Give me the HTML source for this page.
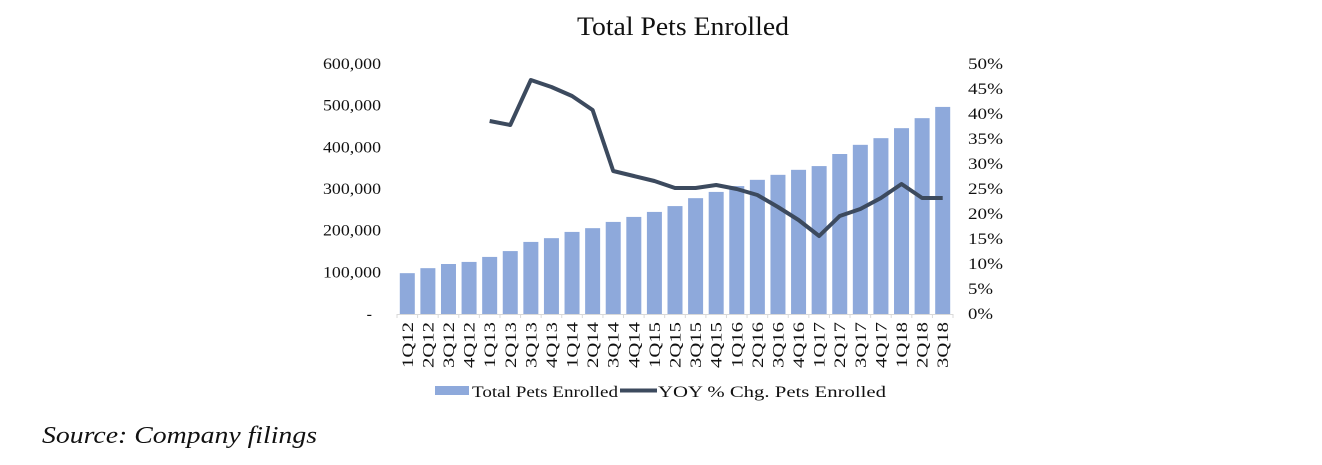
<!DOCTYPE html>
<html><head><meta charset="utf-8"><style>
body{margin:0;background:#fff;width:1322px;height:460px;overflow:hidden;font-family:"Liberation Serif",serif}
svg text{font-family:"Liberation Serif",serif}
</style></head><body>
<svg width="1322" height="460">
<text x="577" y="35" font-size="26" textLength="212" lengthAdjust="spacingAndGlyphs" fill="#111">Total Pets Enrolled</text>
<g id="plot"></g>
<g>
<rect x="435" y="386" width="34" height="9" fill="#8ea9db"/>
<text x="472" y="397" font-size="16" textLength="146" lengthAdjust="spacingAndGlyphs" fill="#111">Total Pets Enrolled</text>
<line x1="620" y1="390.5" x2="657" y2="390.5" stroke="#3c4a5e" stroke-width="4"/>
<text x="658" y="397" font-size="16" textLength="228" lengthAdjust="spacingAndGlyphs" fill="#111">YOY % Chg. Pets Enrolled</text>
</g>
<text x="42" y="443" font-size="24" textLength="275" lengthAdjust="spacingAndGlyphs" font-style="italic" fill="#111">Source: Company filings</text>
</svg>
<script>
const categories=["1Q12","2Q12","3Q12","4Q12","1Q13","2Q13","3Q13","4Q13","1Q14","2Q14","3Q14","4Q14","1Q15","2Q15","3Q15","4Q15","1Q16","2Q16","3Q16","4Q16","1Q17","2Q17","3Q17","4Q17","1Q18","2Q18","3Q18"];
const pets=[98000,110000,120000,125000,137000,151000,173000,182000,197000,206000,221000,233000,245000,259000,278000,293000,307000,322000,334000,346000,355000,384000,406000,422000,446000,470000,497000];
const yoy=[null,null,null,null,38.6,37.8,46.8,45.4,43.6,40.8,28.6,27.6,26.6,25.2,25.2,25.8,25.0,23.8,21.4,18.8,15.6,19.6,21.0,23.2,26.0,23.2,23.2];
const leftTicks=["-","100,000","200,000","300,000","400,000","500,000","600,000"];
const rightTicks=["0%","5%","10%","15%","20%","25%","30%","35%","40%","45%","50%"];
const NS="http://www.w3.org/2000/svg";
const g=document.getElementById('plot');
const X0=397,X1=953,Y0=314,Y1=64;
const step=(X1-X0)/categories.length;
const xc=i=>X0+step*(i+0.5);
const yL=v=>Y0-(v/600000)*(Y0-Y1);
const yR=v=>Y0-(v/50)*(Y0-Y1);
function el(t,a){const e=document.createElementNS(NS,t);for(const k in a)e.setAttribute(k,a[k]);g.appendChild(e);return e;}
pets.forEach((v,i)=>{const r=el('rect',{x:xc(i)-7.5,y:yL(v),width:15,height:Y0-yL(v),fill:'#8ea9db'});

});
const ax=el('line',{x1:X0,y1:Y0+0.5,x2:X1,y2:Y0+0.5,stroke:'#d9d9d9'});


for(let i=0;i<=categories.length;i++){const t=el('line',{x1:X0+step*i,y1:Y0,x2:X0+step*i,y2:Y0+4,stroke:'#d9d9d9'});

}
categories.forEach((c,i)=>{const t=el('text',{x:0,y:0,'font-size':16,textLength:46,lengthAdjust:'spacingAndGlyphs',fill:'#111','text-anchor':'end',transform:`translate(${xc(i)+5.5},322) rotate(-90)`});t.textContent=c;

});
leftTicks.forEach((s,i)=>{const a={x:i==0?372:381,y:yL(i*100000)+5,'font-size':16,fill:'#111','text-anchor':'end'};if(i>0){a.textLength=58;a.lengthAdjust='spacingAndGlyphs';}const t=el('text',a);t.textContent=s;

});
rightTicks.forEach((s,i)=>{const t=el('text',{x:968,y:yR(i*5)+5,'font-size':16,textLength:s.length==3?35:25,lengthAdjust:'spacingAndGlyphs',fill:'#111'});t.textContent=s;

});
let d='';yoy.forEach((v,i)=>{if(v==null)return;d+=(d?'L':'M')+xc(i)+','+yR(v);});
const p=el('path',{d:d,fill:'none',stroke:'#3c4a5e','stroke-width':4,'stroke-linejoin':'round'});


</script>
</body></html>
